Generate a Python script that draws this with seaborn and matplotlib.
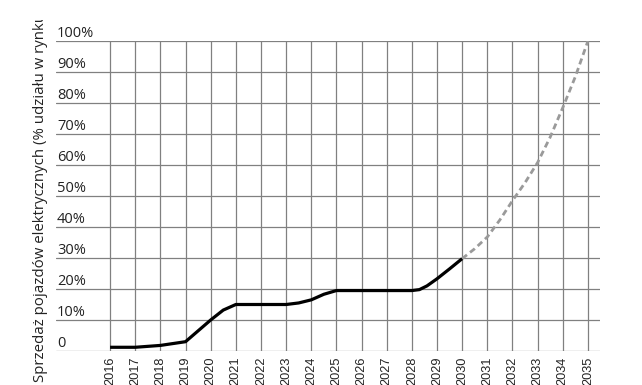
import matplotlib
matplotlib.use("Agg")
import matplotlib.pyplot as plt
import matplotlib.transforms as mtransforms
from matplotlib.patches import Rectangle
import seaborn as sns
import pandas as pd

# ---- data ----
hist_years = [2016, 2017, 2018, 2019, 2020, 2020.5, 2021, 2022, 2023, 2023.5, 2024, 2024.5, 2025,
              2026, 2027, 2028, 2028.3, 2028.6, 2029, 2029.5, 2030]
hist_share = [1.2, 1.2, 1.8, 3.0, 10.0, 13.2, 15.0, 15.0, 15.0, 15.5, 16.5, 18.3, 19.5,
              19.5, 19.5, 19.5, 19.8, 21.0, 23.3, 26.5, 29.8]
proj_years = [2030, 2030.5, 2031, 2031.5, 2032, 2032.5, 2033, 2033.5, 2034, 2034.5, 2035]
proj_share = [29.8, 33.0, 36.8, 42.3, 48.5, 54.3, 60.8, 69.0, 78.5, 88.5, 100.0]
tick_years = list(range(2016, 2036))
y_ticks = list(range(0, 101, 10))
y_labels = ["0"] + [f"{v}%" for v in y_ticks[1:]]
y_title = "Sprzedaż pojazdów elektrycznych (% udziału w rynku)"

sns.set_theme(style="white")
plt.rcParams["font.family"] = ["Open Sans", "DejaVu Sans"]

fig = plt.figure(figsize=(6.42, 3.85), dpi=100)
ax = fig.add_axes([56 / 642, 1 - 351 / 385, 544 / 642, 310 / 385])

hist = pd.DataFrame({"year": hist_years, "share": hist_share})
proj = pd.DataFrame({"year": proj_years, "share": proj_share})

sns.lineplot(data=hist, x="year", y="share", ax=ax, color="black", linewidth=2.3,
             solid_capstyle="butt", zorder=3)
sns.lineplot(data=proj, x="year", y="share", ax=ax, color="#9a9a9a", linewidth=2.0,
             zorder=3, dashes=False)
ax.lines[-1].set_dashes([2.2, 1.4])

ax.set_xlim(2013.85, 2035.48)
ax.set_ylim(0, 100)
ax.set_xticks(tick_years)
ax.set_xticklabels([str(y) for y in tick_years], rotation=90, va="top",
                   fontsize=9.2, family=["Liberation Sans", "DejaVu Sans"], color="#222222")
ax.tick_params(axis="x", length=0, pad=4.3)
ax.set_yticks(y_ticks)
ax.set_yticklabels([])
ax.tick_params(axis="y", length=0)
ax.grid(True, color="#808080", linewidth=0.9)
for s in ax.spines.values():
    s.set_visible(False)
ax.set_xlabel("")
ax.set_ylabel("")

trans = mtransforms.blended_transform_factory(ax.transAxes, ax.transData)
off = mtransforms.offset_copy(trans, fig=fig, x=1, y=4, units="dots")
for v, lab in zip(y_ticks, y_labels):
    ax.text(0.0, v, lab, transform=off, ha="left", va="baseline",
            fontsize=10.5, color="#222222")

t = fig.text(41 / 642, 1 - 382 / 385, y_title, rotation=90, ha="center", va="bottom",
             fontsize=10.8, color="#222222")
clip_rect = Rectangle((0, 0), 1, 1 - 20 / 385, transform=fig.transFigure,
                      facecolor="none", edgecolor="none")
fig.add_artist(clip_rect)
t.set_clip_path(clip_rect)
t.set_clip_on(True)

fig.savefig("out.png", dpi=100)
